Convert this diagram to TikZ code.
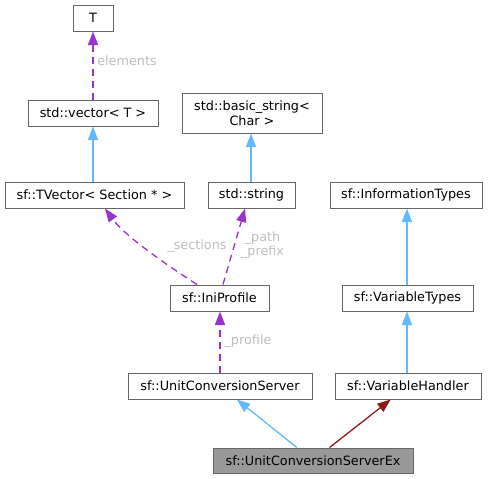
\documentclass[tikz,border=0pt]{standalone}
\usepackage{fontspec}
\setmainfont{DejaVu Sans}
\usetikzlibrary{arrows.meta,calc}
\definecolor{cblue}{HTML}{63B8FF}
\definecolor{cpurple}{HTML}{9A32CD}
\definecolor{cred}{HTML}{8B1A1A}
\definecolor{cborder}{HTML}{666666}
\definecolor{cfill}{HTML}{999999}
\definecolor{clabel}{HTML}{BEBEBE}
\tikzset{
  box/.style={draw=cborder, line width=1pt, fill=white, rectangle, inner sep=0pt,
    minimum height=26pt, font=\fontsize{12.8}{15}\selectfont, align=center},
  lbl/.style={text=clabel, inner sep=0pt, font=\fontsize{12.8}{14}\selectfont, align=center},
  inh/.style={draw=cblue, line width=1.3pt, -{Triangle[length=13.5pt,width=10pt]}},
  privinh/.style={draw=cred, line width=1.3pt, -{Triangle[length=13.5pt,width=10pt]}},
  usage/.style={draw=cpurple, line width=1.3pt, dash pattern=on 7pt off 5pt, -{Triangle[length=13.5pt,width=10pt]}},
}
\begin{document}
\begin{tikzpicture}[x=1pt,y=-1pt]
\useasboundingbox (0,0) rectangle (491,479);
\node[box, minimum width=40pt] (T) at (93,18) {T};
\node[box, minimum width=130pt] (vec) at (93,113) {std::vector< T >};
\node[box, minimum width=140pt, minimum height=40pt] (bstr) at (252,113) {std::basic\_string<\\Char >};
\node[box, minimum width=179pt] (tvec) at (94.5,195) {sf::TVector< Section * >};
\node[box, minimum width=87pt] (str) at (251.5,195) {std::string};
\node[box, minimum width=152pt] (info) at (406,195) {sf::InformationTypes};
\node[box, minimum width=99pt] (ini) at (219.5,298) {sf::IniProfile};
\node[box, minimum width=131pt] (vtypes) at (407.5,298) {sf::VariableTypes};
\node[box, minimum width=184pt] (ucs) at (220,386) {sf::UnitConversionServer};
\node[box, minimum width=146pt] (vh) at (408,386) {sf::VariableHandler};
\node[box, minimum width=200pt, minimum height=25pt, fill=cfill] (ucsx) at (313,460.5) {sf::UnitConversionServerEx};

\draw[usage] (vec.north) -- (T.south);
\node[lbl] (lelem) at (127,61) {elements};
\draw[inh] (vec |- tvec.north) -- (vec.south);
\draw[inh] ($(str.north)+(-0.5,0)$) -- ($(str.north |- bstr.south)+(-0.5,0)$);
\draw[inh] ($(vtypes.north)+(-0.5,0)$) -- ($(vtypes.north |- info.south)+(-0.5,0)$);
\draw[inh] ($(vh.north)+(-1,0)$) -- ($(vh.north |- vtypes.south)+(-1,0)$);
\draw[usage] ($(ini.north)+(-22.5,0)$) .. controls (165,264) and (125,236) .. ($(tvec.south)+(10.5,0)$);
\node[lbl] (lsec) at (197,246) {\_sections};
\draw[usage] ($(ini.north)+(3.5,0)$) -- ($(str.south)+(-6.5,0)$);
\node[lbl] (lpath) at (262.5,245.5) {\_path\\\_prefix};
\draw[usage] (ucs.north) -- (ucs.north |- ini.south);
\node[lbl] (lprof) at (248,341) {\_profile};
\draw[inh] (ucsx) -- (ucs);
\draw[privinh] (ucsx) -- (vh);
\end{tikzpicture}
\end{document}
